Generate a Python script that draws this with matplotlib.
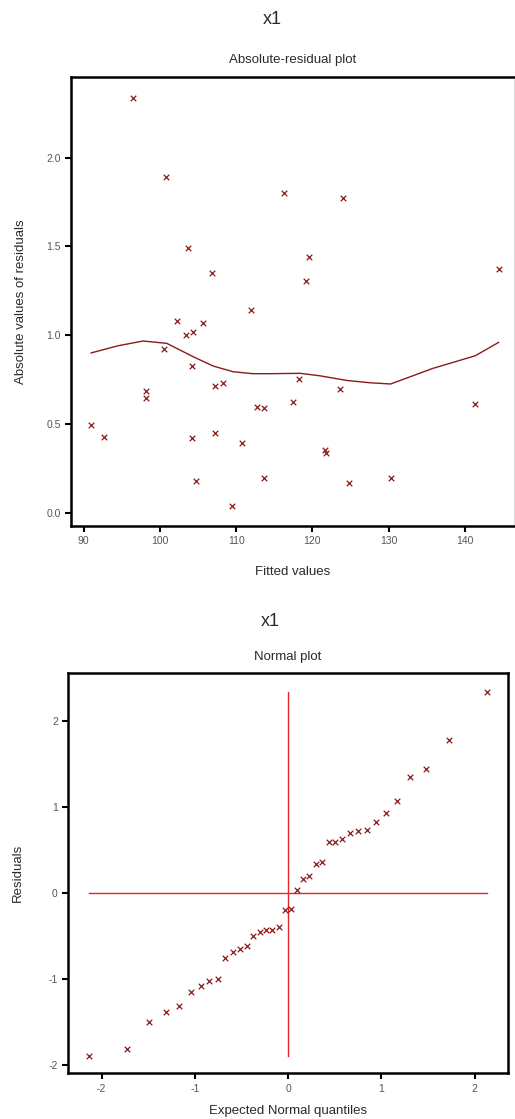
import matplotlib
matplotlib.use("Agg")
import matplotlib.pyplot as plt

plt.rcParams['font.family'] = ['Liberation Sans', 'DejaVu Sans']
plt.rcParams['axes.unicode_minus'] = False

# Absolute-residual plot: fitted values vs |residual|
fitted = [96.5, 100.8, 116.3, 103.65, 106.8, 111.9, 124.0, 119.6, 119.2, 144.4,
          102.25, 103.4, 104.3, 105.7, 100.55, 104.2, 107.2, 108.3, 98.15, 98.2,
          112.7, 113.6, 91.0, 92.65, 104.2, 107.2, 110.8, 104.7, 113.6, 109.5,
          118.25, 117.4, 123.6, 141.35, 121.7, 121.8, 124.8, 130.25]
abs_resid = [2.335, 1.889, 1.80, 1.489, 1.35, 1.143, 1.774, 1.438, 1.305, 1.372,
             1.079, 1.0, 1.016, 1.066, 0.922, 0.826, 0.715, 0.729, 0.684, 0.646,
             0.597, 0.590, 0.496, 0.425, 0.419, 0.447, 0.394, 0.177, 0.195, 0.036,
             0.753, 0.622, 0.697, 0.610, 0.353, 0.336, 0.167, 0.197]

# smoothed trend through the absolute residuals
smooth_x = [91.0, 94.5, 97.8, 100.9, 104.4, 107.0, 109.6, 112.2, 114.4, 118.4,
            121.0, 124.5, 127.5, 130.25, 135.8, 141.35, 144.4]
smooth_y = [0.90, 0.94, 0.967, 0.954, 0.878, 0.826, 0.794, 0.783, 0.783, 0.785,
            0.771, 0.745, 0.732, 0.725, 0.813, 0.884, 0.959]

# Normal plot: expected normal quantiles vs residuals
quantiles = [-2.135, -1.724, -1.488, -1.311, -1.171, -1.046, -0.939, -0.843, -0.754,
             -0.675, -0.589, -0.511, -0.443, -0.372, -0.304, -0.232, -0.168, -0.100,
             -0.030, 0.030,
             0.096, 0.160, 0.228, 0.296, 0.360, 0.435, 0.506, 0.581, 0.667,
             0.753, 0.846, 0.942, 1.045, 1.167, 1.309, 1.481, 1.720, 2.134]
residuals = [-1.895, -1.814, -1.496, -1.380, -1.310, -1.147, -1.085, -1.019, -1.004,
             -0.760, -0.686, -0.655, -0.616, -0.496, -0.450, -0.426, -0.426, -0.399,
             -0.198, -0.182,
             0.035, 0.167, 0.198, 0.337, 0.357, 0.593, 0.597, 0.624, 0.702,
             0.717, 0.729, 0.826, 0.926, 1.070, 1.353, 1.442, 1.779, 2.341]

mark_col = '#8b1a1a'
line_col = '#e0282a'
text_col = '#2a2a2a'

def style_axes(ax, right_faint=False):
    for side in ['left', 'bottom', 'top', 'right']:
        ax.spines[side].set_linewidth(1.8)
        ax.spines[side].set_color('black')
    if right_faint:
        ax.spines['right'].set_linewidth(0.8)
        ax.spines['right'].set_color('#dddddd')
    ax.tick_params(direction='out', length=4, width=1.5, color='black',
                   labelsize=7.5, labelcolor='#555555', top=False, right=False)

fig = plt.figure(figsize=(5.15, 11.19), dpi=100)

# ---- top panel
ax1 = fig.add_axes([0.1379, 0.5299, 0.8592, 0.4010])
ax1.scatter(fitted, abs_resid, marker='x', s=16, linewidths=0.9, color=mark_col, zorder=3)
ax1.plot(smooth_x, smooth_y, color=mark_col, linewidth=1.0)
ax1.set_xlim(88.36, 146.36)
ax1.set_ylim(-0.075, 2.452)
ax1.set_xticks([90, 100, 110, 120, 130, 140])
ax1.set_yticks([0.0, 0.5, 1.0, 1.5, 2.0])
ax1.set_yticklabels(['0.0', '0.5', '1.0', '1.5', '2.0'])
style_axes(ax1, right_faint=True)
ax1.set_xlabel('Fitted values', fontsize=9.5, color=text_col, labelpad=14)
ax1.set_ylabel('Absolute values of residuals', fontsize=9.5, color=text_col, labelpad=14)

fig.text(0.528, 1 - 20 / 1119, 'x1', ha='center', va='center', fontsize=13, color=text_col)
fig.text(0.569, 1 - 60 / 1119, 'Absolute-residual plot', ha='center', va='center',
         fontsize=9.5, color=text_col)

# ---- bottom panel
ax2 = fig.add_axes([0.1326, 0.0408, 0.8532, 0.3575])
ax2.plot([min(quantiles), max(quantiles)], [0, 0], color=line_col, linewidth=1.0)
ax2.plot([0, 0], [min(residuals), max(residuals)], color=line_col, linewidth=1.0)
ax2.scatter(quantiles, residuals, marker='x', s=16, linewidths=0.9, color=mark_col, zorder=3)
ax2.set_xlim(-2.356, 2.353)
ax2.set_ylim(-2.097, 2.555)
ax2.set_xticks([-2, -1, 0, 1, 2])
ax2.set_yticks([-2, -1, 0, 1, 2])
style_axes(ax2)
ax2.set_xlabel('Expected Normal quantiles', fontsize=9.5, color=text_col, labelpad=8)
ax2.set_ylabel('Residuals', fontsize=9.5, color=text_col, labelpad=18)

fig.text(0.524, 1 - 621.7 / 1119, 'x1', ha='center', va='center', fontsize=13, color=text_col)
fig.text(0.559, 1 - 656.7 / 1119, 'Normal plot', ha='center', va='center',
         fontsize=9.5, color=text_col)

fig.savefig('out.png', dpi=100)
